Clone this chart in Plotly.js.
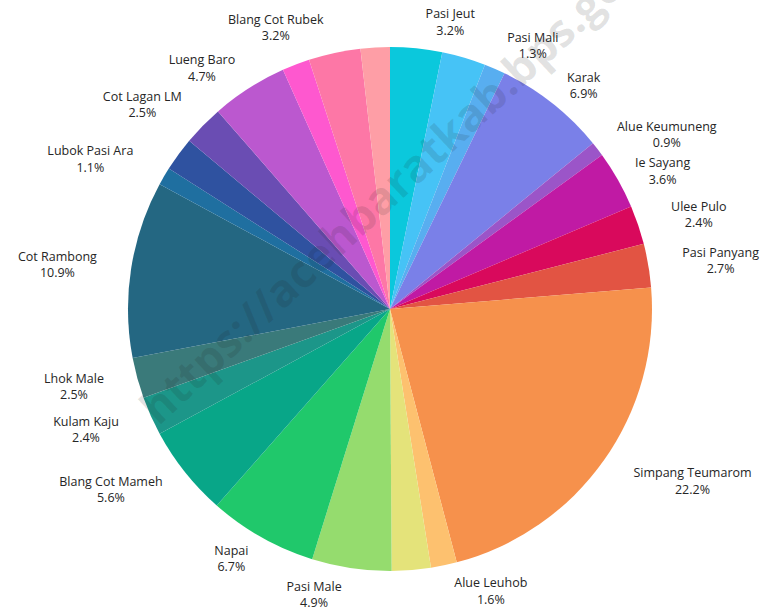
<!DOCTYPE html>
<html>
<head>
<meta charset="utf-8">
<script src="https://cdn.plot.ly/plotly-3.0.1.min.js"></script>
<style>
html,body{margin:0;padding:0;background:#fff;}
#chart{width:767px;height:611px;}
.textline{display:none !important;}
</style>
</head>
<body>
<div id="chart"></div>
<script>
// Village names (clockwise from 12 o'clock); unnamed slices have no visible label in the reference
const villages = [
  "Pasi Jeut", "Slice 2", "Pasi Mali", "Karak", "Alue Keumuneng", "Ie Sayang",
  "Ulee Pulo", "Pasi Panyang", "Simpang Teumarom", "Alue Leuhob", "Slice 11",
  "Pasi Male", "Napai", "Blang Cot Mameh", "Kulam Kaju", "Lhok Male",
  "Cot Rambong", "Lubok Pasi Ara", "Slice 19", "Cot Lagan LM", "Lueng Baro",
  "Slice 22", "Blang Cot Rubek", "Slice 24"
];
// Share in percent
const shares = [
  3.2, 2.7, 1.3, 6.9, 0.9, 3.6,
  2.4, 2.7, 22.2, 1.6, 2.4,
  4.9, 6.7, 5.6, 2.4, 2.5,
  10.9, 1.1, 2.1, 2.5, 4.7,
  1.7, 3.2, 1.8
];
// Whether the reference prints a label for the slice
const showLabel = [
  1, 0, 1, 1, 1, 1,
  1, 1, 1, 1, 0,
  1, 1, 1, 1, 1,
  1, 1, 0, 1, 1,
  0, 1, 0
];
const sliceColors = [
  "#0bc8dc", "#46c3f6", "#58aef0", "#7a80e8", "#9b55c8", "#c01aa4",
  "#d9095c", "#e25443", "#f6914c", "#fdc16f", "#e4e37a",
  "#95dc6e", "#20c86b", "#08a688", "#1c9689", "#3a7a7a",
  "#246782", "#1f6fa0", "#2f52a0", "#6a4db3", "#bb58cf",
  "#fe58cf", "#fd77a6", "#fe9ea6"
];

// ---- presentation settings (not data) ----
const W = 767, H = 611;
const CX = 390, CY = 309, R = 262;           // pie centre and radius in pixels
// label ring per slice: how far outside the rim its label sits
const labelRing = [
  "solo", "near", "near", "near", "high", "near",
  "far", "far", "far", "near", "near",
  "near", "near", "mid", "far", "far",
  "far", "far", "far", "mid", "near",
  "near", "near", "near"
];
const ringGap = { near: 10, solo: 10, high: 14, mid: 18, far: 26 };
const labelFont = { family: "'Open Sans', 'Noto Sans', sans-serif", size: 12.5, color: "#262626" };

function domainFor(r) {
  return {
    x: [(CX - r) / W, (CX + r) / W],
    y: [1 - (CY + r) / H, 1 - (CY - r) / H]
  };
}

function carrier(ring) {
  const txt = villages.map((v, i) =>
    (showLabel[i] && labelRing[i] === ring) ? (v + "<br>" + shares[i].toFixed(1) + "%") : "");
  return {
    type: "pie",
    labels: villages,
    values: shares,
    text: txt,
    textinfo: "text",
    texttemplate: "%{text}",
    textposition: "outside",
    sort: false,
    direction: "clockwise",
    rotation: 0,
    marker: { colors: villages.map(() => "rgba(0,0,0,0)"), line: { width: 0 } },
    outsidetextfont: labelFont,
    domain: domainFor(R + ringGap[ring]),
    hoverinfo: "skip",
    showlegend: false
  };
}

const pie = {
  type: "pie",
  labels: villages,
  values: shares,
  textinfo: "none",
  sort: false,
  direction: "clockwise",
  rotation: 0,
  marker: { colors: sliceColors, line: { width: 0 } },
  domain: domainFor(R),
  hoverinfo: "label+value",
  showlegend: false
};

const layout = {
  width: W,
  height: H,
  margin: { l: 0, r: 0, t: 0, b: 0 },
  paper_bgcolor: "#ffffff",
  showlegend: false,
  annotations: [{
    text: "https://acehbaratkab.bps.go.id",
    xref: "paper", yref: "paper",
    x: 0.523, y: 0.711,
    xanchor: "center", yanchor: "middle",
    showarrow: false,
    textangle: -43,
    font: { family: "'Open Sans', sans-serif", size: 45, weight: 700, color: "rgba(30,30,30,0.13)" }
  }]
};

Plotly.newPlot("chart", [carrier("far"), carrier("mid"), carrier("high"), carrier("near"), carrier("solo"), pie], layout,
  { displayModeBar: false, staticPlot: true });
</script>
</body>
</html>
